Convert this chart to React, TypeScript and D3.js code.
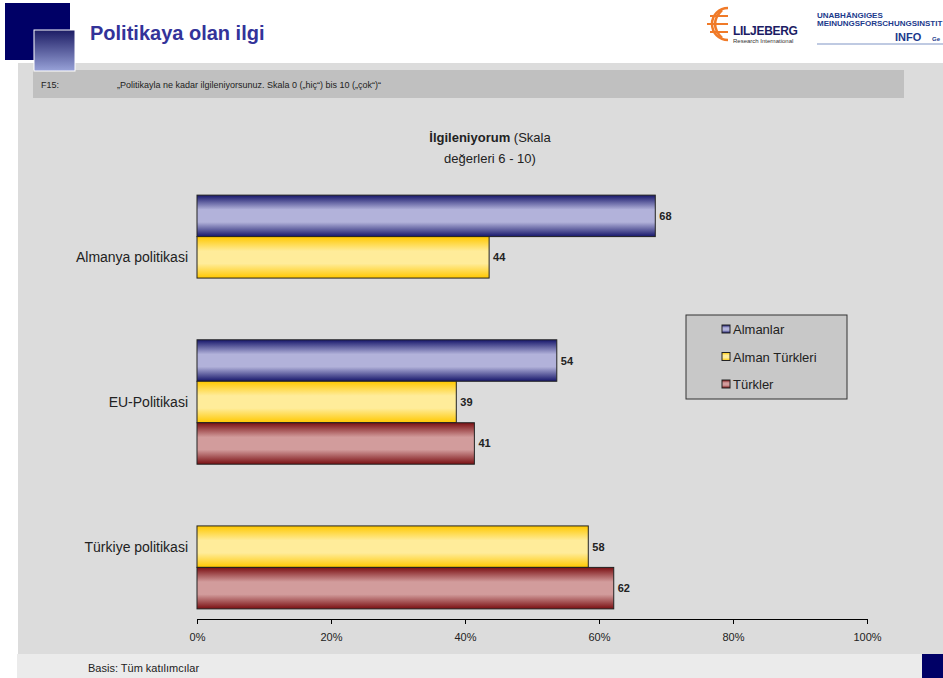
import * as React from 'react';
import { scaleBand, scaleLinear, axisBottom, select } from 'd3';

const categories = ['Almanya politikasi', 'EU-Politikasi', 'Türkiye politikasi'];
const seriesNames = ['Almanlar', 'Alman Türkleri', 'Türkler'];
// null = no bar in that slot; labels show rounded values
const almanlar: (number | null)[] = [68.4, 53.7, null];
const almanTurkleri: (number | null)[] = [43.6, 38.7, 58.4];
const turkler: (number | null)[] = [null, 41.4, 62.2];
const tickValues = [0, 20, 40, 60, 80, 100];

const seriesValues = [almanlar, almanTurkleri, turkler];
const gradients = [
    { id: 'gBlue', edge: '#16166a', mid: '#b2b2da' },
    { id: 'gYellow', edge: '#ffc800', mid: '#ffec9a' },
    { id: 'gRed', edge: '#7a0f12', mid: '#d29c9c' },
];

const W = 943, H = 678;
const margin = { left: 197, right: 76, top: 185, bottom: 60 };

const App = () => {
    const axisRef = React.useRef<SVGGElement>(null);

    const x = scaleLinear().domain([0, 100]).range([margin.left, W - margin.right]);
    const y = scaleBand().domain(categories).range([margin.top, H - margin.bottom + 1]).paddingInner(0.14).paddingOuter(0.07);
    const ySub = scaleBand().domain(seriesNames).range([0, y.bandwidth()]);

    React.useEffect(() => {
        if (!axisRef.current) return;
        const g = select(axisRef.current);
        g.call(axisBottom(x).tickValues(tickValues).tickSize(5).tickSizeOuter(5).tickFormat(d => `${d}%`) as any);
        g.select('.domain').attr('stroke', '#000');
        g.selectAll('line').attr('stroke', '#000');
        g.selectAll('text').attr('fill', '#222').attr('dy', '1.3em')
            .style('font-family', 'Liberation Sans, Arial, sans-serif').style('font-size', '11px');
    }, []);

    const font = 'Liberation Sans, Arial, sans-serif';

    return (
        <svg width={W} height={H} style={{ position: 'absolute', left: 0, top: 0 }} fontFamily={font}>
            <defs>
                {gradients.map(gr => (
                    <linearGradient key={gr.id} id={gr.id} x1="0" y1="0" x2="0" y2="1">
                        <stop offset="0%" stopColor={gr.edge} />
                        <stop offset="35%" stopColor={gr.mid} />
                        <stop offset="65%" stopColor={gr.mid} />
                        <stop offset="100%" stopColor={gr.edge} />
                    </linearGradient>
                ))}
                <linearGradient id="sq" x1="0" y1="0" x2="0" y2="1">
                    <stop offset="0%" stopColor="#1c1c64" />
                    <stop offset="100%" stopColor="#98a2d8" />
                </linearGradient>
            </defs>
            <rect x={0} y={0} width={W} height={H} fill="#fff" />
            {/* header */}
            <rect x={5} y={3} width={65} height={57} fill="#000066" />
            <rect x={18} y={63} width={W - 18} height={591} fill="#dcdcdc" />
            <rect x={33} y={70} width={871} height={28} fill="#c0c0c0" />
            <rect x={34} y={30} width={41} height={41} fill="url(#sq)" stroke="#fff" strokeWidth={1} />
            <text x={90} y={40} fontSize={20} fontWeight="bold" fill="#333399">Politikaya olan ilgi</text>
            <text x={41} y={88} fontSize={9} fill="#222">F15:</text>
            <text x={117} y={88} fontSize={9} fill="#222">„Politikayla ne kadar ilgileniyorsunuz. Skala 0 („hiç“) bis 10 („çok“)“</text>
            {/* logos */}
            <g fill="none" stroke="#f07a28" strokeWidth={2.5}>
                <path d="M728,8 A16,16 0 1 0 728,40" />
                <path d="M722,10 Q708,24 722,38" />
                <path d="M710,16 L728,16 M707,24 L728,24 M710,32 L728,32" strokeWidth={2} />
            </g>
            <text x={733} y={35} fontSize={12} fontWeight="bold" fill="#1c1c64" letterSpacing={-0.3}>LILJEBERG</text>
            <text x={733} y={43} fontSize={6} fill="#333">Research International</text>
            <text x={817} y={18} fontSize={8} fontWeight="bold" fill="#1c3a8c">UNABHÄNGIGES</text>
            <text x={817} y={26} fontSize={8} fontWeight="bold" fill="#1c3a8c">MEINUNGSFORSCHUNGSINSTIT</text>
            <text x={895} y={41} fontSize={11} fontWeight="bold" fill="#1c3a8c">INFO</text>
            <text x={932} y={41} fontSize={6} fontWeight="bold" fill="#1c3a8c">Ge</text>
            <line x1={817} y1={44} x2={943} y2={44} stroke="#aab8d8" strokeWidth={1.5} />
            {/* chart title */}
            <text x={490} y={142} fontSize={13} textAnchor="middle" fill="#222">
                <tspan fontWeight="bold">İlgileniyorum</tspan> (Skala
            </text>
            <text x={490} y={163} fontSize={13} textAnchor="middle" fill="#222">değerleri 6 - 10)</text>
            {/* bars */}
            {categories.map((c, ci) => (
                <g key={c}>
                    <text x={188} y={(y(c) || 0) + y.bandwidth() / 2 + 5} fontSize={14} textAnchor="end" fill="#222">{c}</text>
                    {seriesValues.map((vals, si) => {
                        const v = vals[ci];
                        if (v === null) return null;
                        const by = (y(c) || 0) + (ySub(seriesNames[si]) || 0);
                        return (
                            <g key={si}>
                                <rect x={x(0)} y={by} width={x(v) - x(0)} height={ySub.bandwidth()}
                                    fill={`url(#${gradients[si].id})`} stroke="#222" strokeWidth={1} />
                                <text x={x(v) + 4} y={by + ySub.bandwidth() / 2 + 4} fontSize={11} fontWeight="bold" fill="#222">{Math.round(v)}</text>
                            </g>
                        );
                    })}
                </g>
            ))}
            <g ref={axisRef} transform={`translate(0,${H - margin.bottom + 1})`} />
            {/* legend */}
            <rect x={686} y={315} width={161} height={84} fill="#c8c8c8" stroke="#333" strokeWidth={1} />
            {seriesNames.map((s, i) => (
                <g key={s}>
                    <rect x={722} y={325 + i * 27.5} width={8} height={8} fill={`url(#${gradients[i].id})`} stroke="#222" strokeWidth={1} />
                    <text x={733} y={334 + i * 27.5} fontSize={13} fill="#222">{s}</text>
                </g>
            ))}
            {/* footer */}
            <rect x={17} y={654} width={905} height={24} fill="#ebebeb" />
            <rect x={922} y={654} width={21} height={24} fill="#000066" />
            <text x={88} y={672} fontSize={11} fill="#222">Basis: Tüm katılımcılar</text>
        </svg>
    );
};

export default App;
